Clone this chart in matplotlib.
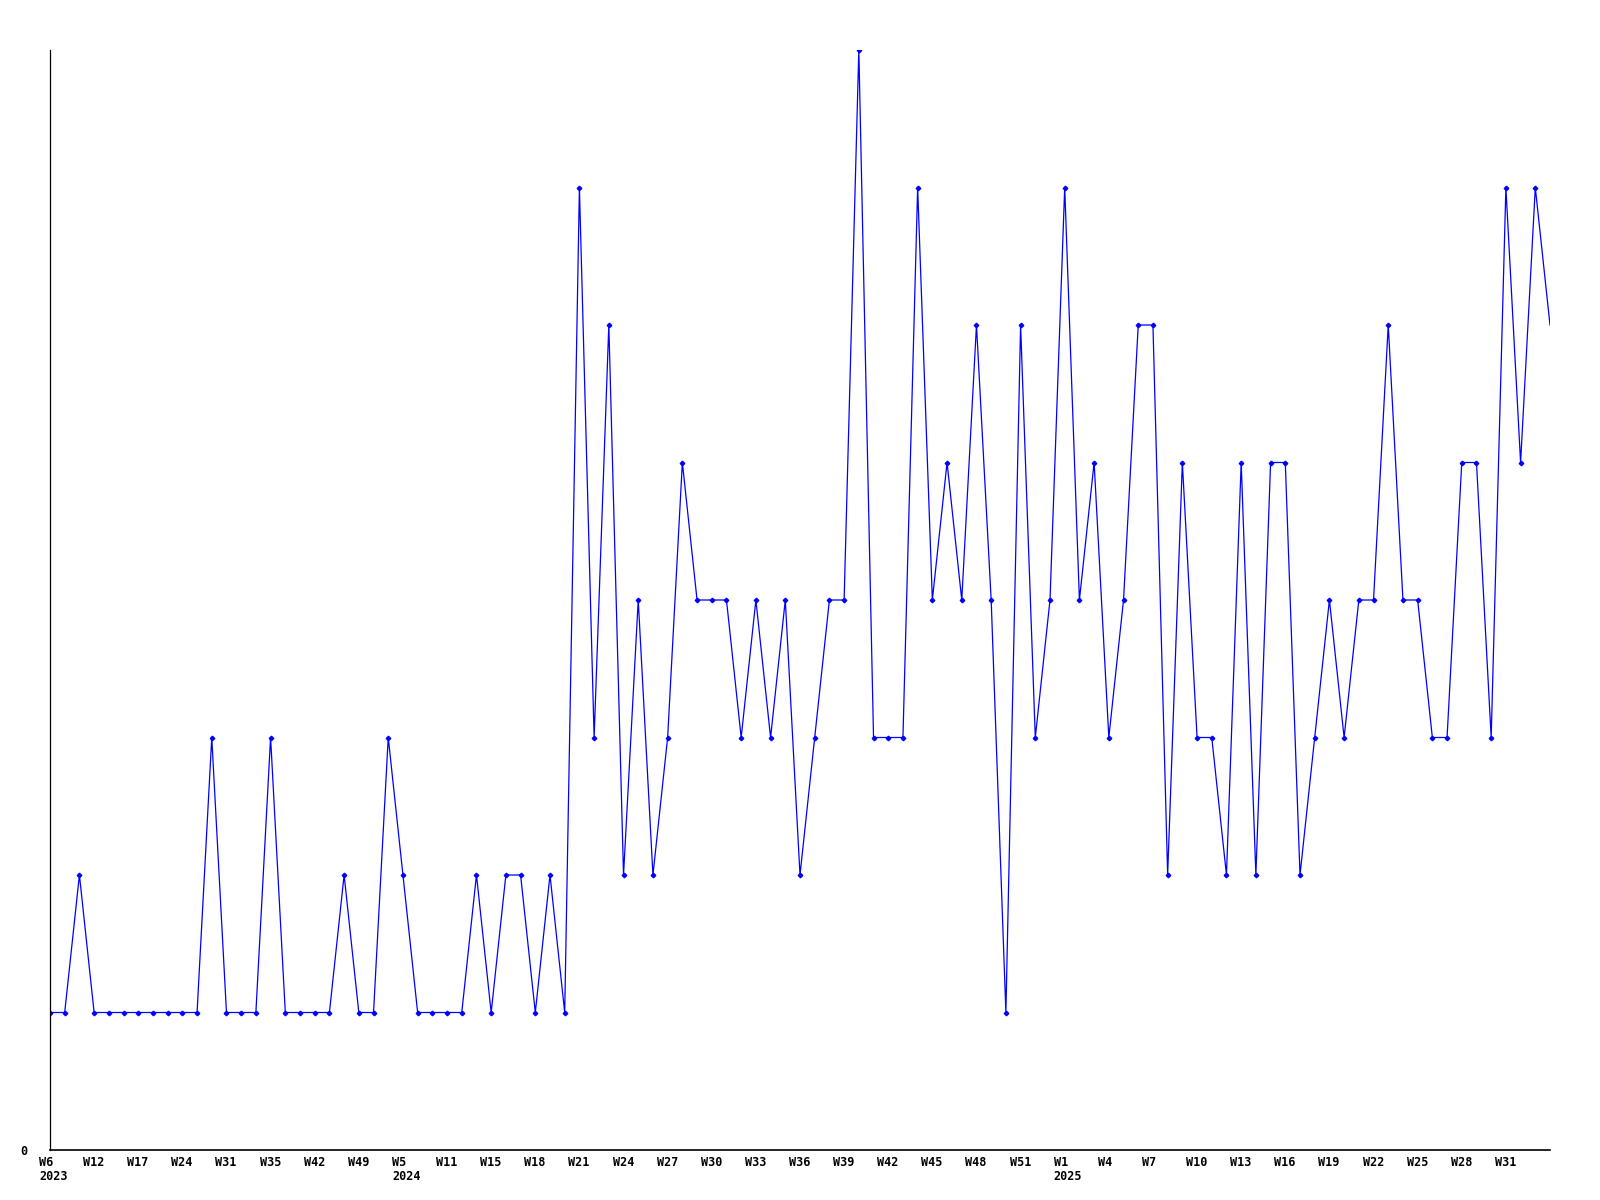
import numpy as np
import matplotlib.pyplot as plt
import matplotlib.transforms as mtransforms

# weekly counts, one point per week that has data
values = [1, 1, 2, 1, 1, 1, 1, 1, 1, 1, 1, 3, 1, 1, 1, 3, 1, 1, 1, 1,
          2, 1, 1, 3, 2, 1, 1, 1, 1, 2, 1, 2, 2, 1, 2, 1, 7, 3, 6, 2,
          4, 2, 3, 5, 4, 4, 4, 3, 4, 3, 4, 2, 3, 4, 4, 8, 3, 3, 3, 7,
          4, 5, 4, 6, 4, 1, 6, 3, 4, 7, 4, 5, 3, 4, 6, 6, 2, 5, 3, 3,
          2, 5, 2, 5, 5, 2, 3, 4, 3, 4, 4, 6, 4, 4, 3, 3, 5, 5, 3, 7,
          5, 7, 6]

# every third point gets a label
tick_labels = ['W6\n2023', 'W12', 'W17', 'W24', 'W31', 'W35', 'W42', 'W49',
               'W5\n2024', 'W11', 'W15', 'W18', 'W21', 'W24', 'W27', 'W30',
               'W33', 'W36', 'W39', 'W42', 'W45', 'W48', 'W51',
               'W1\n2025', 'W4', 'W7', 'W10', 'W13', 'W16', 'W19', 'W22',
               'W25', 'W28', 'W31']

x = np.arange(len(values))

fig = plt.figure(figsize=(16, 12), dpi=100)
ax = fig.add_axes([50 / 1600, 50 / 1200, 1500 / 1600, 1100 / 1200])

ax.plot(x, values, color='#0000ff', linewidth=0.9,
        marker='D', markersize=2.3, markevery=list(range(len(values) - 1)))

ax.set_xlim(0, len(values) - 1)
ax.set_ylim(0, 8)

for s in ['top', 'right']:
    ax.spines[s].set_visible(False)
ax.spines['left'].set_linewidth(0.9)
ax.spines['bottom'].set_linewidth(1.2)

font = dict(family='DejaVu Sans Mono', weight='bold', size=8.5)

ax.set_yticks([0])
ax.set_yticklabels(['0'], **font)
ax.tick_params(axis='y', length=0, pad=16)

ax.set_xticks(x[::3][:len(tick_labels)])
ax.set_xticklabels(tick_labels, ha='left', va='top', linespacing=1.15, **font)
ax.tick_params(axis='x', length=0, pad=4)
shift = mtransforms.ScaledTranslation(-11 / 100, 0, fig.dpi_scale_trans)
for lbl in ax.get_xticklabels():
    lbl.set_transform(lbl.get_transform() + shift)

fig.savefig('out.png', dpi=100, facecolor='white')
